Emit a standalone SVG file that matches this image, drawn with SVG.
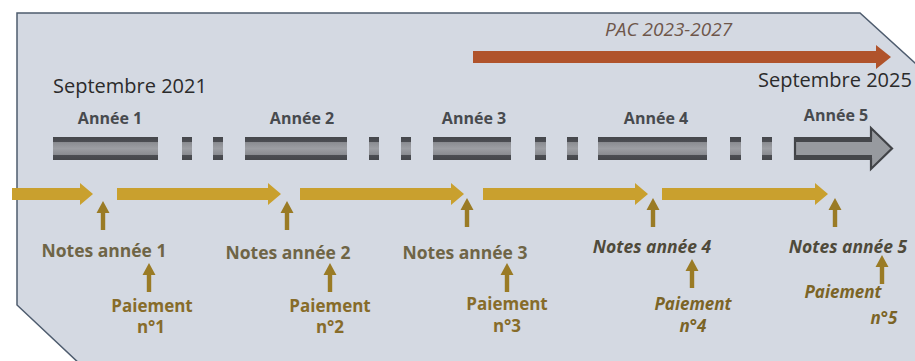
<svg xmlns="http://www.w3.org/2000/svg" width="915" height="361" viewBox="0 0 915 361">
<defs>
<linearGradient id="barGrad" x1="0" y1="0" x2="0" y2="1">
<stop offset="0" stop-color="#45474b"/>
<stop offset="0.2" stop-color="#4b4d52"/>
<stop offset="0.24" stop-color="#8b8d92"/>
<stop offset="0.5" stop-color="#9c9ea3"/>
<stop offset="0.76" stop-color="#8b8d92"/>
<stop offset="0.8" stop-color="#4b4d52"/>
<stop offset="1" stop-color="#45474b"/>
</linearGradient>
<path id="up" d="M0,0 L6.5,12 L2.2,12 L2.2,29 L-2.2,29 L-2.2,12 L-6.5,12 Z"/>
</defs>
<style>
.t{font-family:"Open Sans","Liberation Sans",sans-serif}
.sept{font-size:20px;fill:#2b2b2b}
.yr{font-size:16px;font-weight:bold;fill:#474a4e;text-anchor:middle}
.pac{font-size:19px;font-style:italic;fill:#6e564a}
.notes{font-size:17.5px;font-weight:bold;fill:#6f6546;text-anchor:middle}
.notesi{font-size:17.5px;font-weight:bold;font-style:italic;fill:#4f4a3a;text-anchor:middle}
.pay{font-size:17px;font-weight:bold;fill:#876c2a;text-anchor:middle}
.payi{font-size:17px;font-weight:bold;font-style:italic;fill:#7b6426;text-anchor:middle}
.bar{fill:url(#barGrad)}
.gold{fill:#c9a02e}
.upa{fill:#9a7b25}
</style>
<rect width="915" height="361" fill="#ffffff"/>
<g id="background">
<polygon points="17,13 860,13 925,72 925,366 82,366 17,305" fill="#d4d9e2" stroke="#4e5c6e" stroke-width="1.5"/>
</g>
<g id="pac">
<polygon points="473,51 876,51 876,45 891,57 876,69 876,63 473,63" fill="#b0532b"/>
<text class="t pac" x="605" y="36">PAC 2023-2027</text>
</g>
<g id="dates">
<text class="t sept" x="53" y="93">Septembre 2021</text>
<text class="t sept" x="758" y="87">Septembre 2025</text>
</g>
<g id="years">
<rect class="bar" x="53" y="137" width="105" height="23"/>
<rect class="bar" x="182" y="137" width="10" height="23"/>
<rect class="bar" x="213" y="137" width="10" height="23"/>
<rect class="bar" x="245" y="137" width="102" height="23"/>
<rect class="bar" x="369" y="137" width="10" height="23"/>
<rect class="bar" x="401" y="137" width="10" height="23"/>
<rect class="bar" x="433" y="137" width="78" height="23"/>
<rect class="bar" x="535" y="137" width="11" height="23"/>
<rect class="bar" x="567" y="137" width="11" height="23"/>
<rect class="bar" x="598" y="137" width="109" height="23"/>
<rect class="bar" x="730" y="137" width="11" height="23"/>
<rect class="bar" x="762" y="137" width="10" height="23"/>
<g id="year5arrow">
<polygon points="795,138 871,138 871,128 892,148.5 871,169 871,159 795,159" fill="#979a9f" stroke="#414347" stroke-width="2.2" stroke-linejoin="miter"/>
<rect x="794" y="137" width="78" height="5" fill="#45474b"/>
<rect x="794" y="155" width="78" height="5" fill="#45474b"/>
</g>
<text class="t yr" x="110" y="124">Année 1</text>
<text class="t yr" x="302" y="124">Année 2</text>
<text class="t yr" x="474" y="124">Année 3</text>
<text class="t yr" x="656" y="124">Année 4</text>
<text class="t yr" x="836" y="121">Année 5</text>
</g>
<g id="connectors">
<polygon class="gold" points="12,188 80,188 80,183 93,194 80,205 80,200 12,200"/>
<polygon class="gold" points="117,188 268,188 268,183 281,194 268,205 268,200 117,200"/>
<polygon class="gold" points="300,188 451,188 451,183 464,194 451,205 451,200 300,200"/>
<polygon class="gold" points="483,188 635,188 635,183 648,194 635,205 635,200 483,200"/>
<polygon class="gold" points="662,188 815,188 815,183 828,194 815,205 815,200 662,200"/>
<use href="#up" class="upa" x="103" y="201"/>
<use href="#up" class="upa" x="287" y="201"/>
<use href="#up" class="upa" x="467" y="198"/>
<use href="#up" class="upa" x="653" y="198"/>
<use href="#up" class="upa" x="835" y="198"/>
<use href="#up" class="upa" x="149" y="263"/>
<use href="#up" class="upa" x="330" y="263"/>
<use href="#up" class="upa" x="507" y="263"/>
<use href="#up" class="upa" x="692" y="259"/>
<use href="#up" class="upa" x="882" y="255"/>
</g>
<g id="notes1"><text class="t notes" x="104" y="257">Notes année 1</text></g>
<g id="notes2"><text class="t notes" x="288" y="259">Notes année 2</text></g>
<g id="notes3"><text class="t notes" x="465" y="259">Notes année 3</text></g>
<g id="notes4"><text class="t notesi" x="652" y="253">Notes année 4</text></g>
<g id="notes5"><text class="t notesi" x="848" y="253">Notes année 5</text></g>
<g id="pay1"><text class="t pay" x="152" y="312">Paiement</text><text class="t pay" x="151" y="333">n°1</text></g>
<g id="pay2"><text class="t pay" x="330" y="312">Paiement</text><text class="t pay" x="330" y="333">n°2</text></g>
<g id="pay3"><text class="t pay" x="507" y="310">Paiement</text><text class="t pay" x="507" y="332">n°3</text></g>
<g id="pay4"><text class="t payi" x="693" y="310">Paiement</text><text class="t payi" x="693" y="332">n°4</text></g>
<g id="pay5"><text class="t payi" x="843" y="298" text-anchor="start">Paiement</text><text class="t payi" x="884" y="324">n°5</text></g>
</svg>
